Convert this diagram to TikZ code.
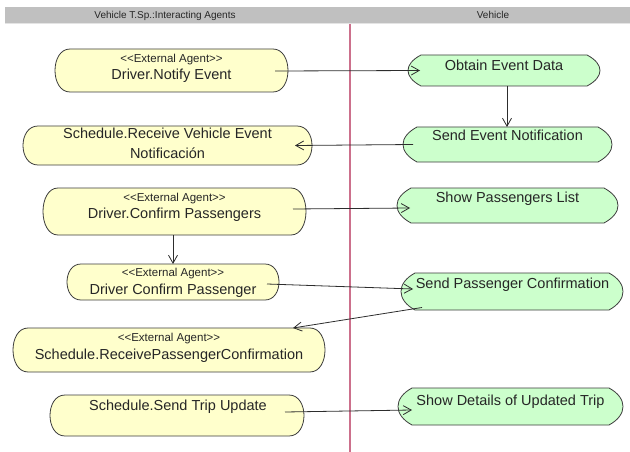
\documentclass[tikz,border=0pt]{standalone}
\usepackage{fontspec}
\setmainfont{Liberation Sans}
\usetikzlibrary{arrows.meta}

\definecolor{agentfill}{RGB}{255,255,204}
\definecolor{actfill}{RGB}{204,255,204}
\definecolor{outline}{RGB}{60,60,60}
\definecolor{headgray}{RGB}{192,192,192}
\definecolor{headedge}{RGB}{228,228,228}
\definecolor{lanepink}{RGB}{204,112,140}
\definecolor{wire}{RGB}{45,45,45}

% outline of an action state: flat top/bottom, curved ends
% #1 node, #2 bulge of the ends, #3 drop of the end tangents, #4 style
\newcommand\capoutline[4]{%
  \path[#4] ([xshift=#2]#1.north west) -- ([xshift=-#2]#1.north east)
    .. controls ([xshift=#2/3,yshift=-#3]#1.north east) and ([xshift=#2/3,yshift=#3]#1.south east)
    .. ([xshift=-#2]#1.south east) -- ([xshift=#2]#1.south west)
    .. controls ([xshift=-#2/3,yshift=#3]#1.south west) and ([xshift=-#2/3,yshift=-#3]#1.north west)
    .. cycle;}

\tikzset{
  frame/.style={rectangle, draw=none, inner sep=0pt, outer sep=0pt},
  agentshape/.style={fill=agentfill, draw=outline, line width=0.8pt},
  actshape/.style={fill=actfill, draw=outline, line width=0.8pt},
  maintext/.style={anchor=base, inner sep=0pt, text=black!85,
    font=\fontsize{14.5}{16}\selectfont},
  stereotext/.style={anchor=base, inner sep=0pt, text=black!85,
    font=\fontsize{11.5}{13}\selectfont},
  headtext/.style={anchor=base, inner sep=0pt, text=black!85,
    font=\fontsize{10}{12}\selectfont},
  flow/.style={draw=wire, line width=0.8pt,
    -{Straight Barb[length=8pt,width=9pt,line width=0.8pt]}},
}

\newcommand\stereo{<\kern0pt<External Agent>\kern0pt>}

\begin{document}
\begin{tikzpicture}[x=1pt,y=-1pt]
\useasboundingbox (0,0) rectangle (630,452);

% swimlane header and divider
\fill[headgray] (5,7) rectangle (630,23);
\draw[headedge, line width=1pt] (5,23.5) -- (630,23.5);
\node[headtext] (laneA) at (165,19) {Vehicle T.Sp.:Interacting Agents};
\node[headtext] (laneB) at (493,19) {Vehicle};
\draw[lanepink, line width=1.3pt] (350,24) -- (350,452);

% state frames
\node[frame, minimum width=233pt, minimum height=43pt] (y1) at (171.5,70.5) {};
\node[frame, minimum width=289pt, minimum height=39pt] (y2) at (167.5,145.5) {};
\node[frame, minimum width=263pt, minimum height=47pt] (y3) at (174.5,211.5) {};
\node[frame, minimum width=212pt, minimum height=36pt] (y4) at (173,282) {};
\node[frame, minimum width=312pt, minimum height=44pt] (y5) at (169,350) {};
\node[frame, minimum width=254pt, minimum height=41pt] (y6) at (177,415.5) {};

\node[frame, minimum width=192pt, minimum height=31pt] (g1) at (504,70.5) {};
\node[frame, minimum width=209pt, minimum height=35pt] (g2) at (507.5,144.5) {};
\node[frame, minimum width=221pt, minimum height=35pt] (g3) at (507.5,205.5) {};
\node[frame, minimum width=222pt, minimum height=37pt] (g4) at (512,291.5) {};
\node[frame, minimum width=225pt, minimum height=37pt] (g5) at (510.5,406.5) {};

% outlines
\capoutline{y1}{15}{0}{agentshape}
\capoutline{y2}{15}{0}{agentshape}
\capoutline{y3}{15}{0}{agentshape}
\capoutline{y4}{14}{0}{agentshape}
\capoutline{y5}{15}{0}{agentshape}
\capoutline{y6}{15}{0}{agentshape}
\capoutline{g1}{13}{9}{actshape}
\capoutline{g2}{14}{10}{actshape}
\capoutline{g3}{14}{10}{actshape}
\capoutline{g4}{14}{10}{actshape}
\capoutline{g5}{14}{10}{actshape}

% labels
\node[stereotext] (y1s) at (171.5,62.5) {\stereo};
\node[maintext]   (y1t) at (171.5,80) {Driver.Notify Event};
\node[maintext]   (y2t) at (167.5,139) {Schedule.Receive Vehicle Event};
\node[maintext]   (y2u) at (167.5,158) {Notificación};
\node[stereotext] (y3s) at (174.5,201) {\stereo};
\node[maintext]   (y3t) at (174.5,218) {Driver.Confirm Passengers};
\node[stereotext] (y4s) at (173,276.5) {\stereo};
\node[maintext]   (y4t) at (173,294) {Driver Confirm Passenger};
\node[stereotext] (y5s) at (169,341) {\stereo};
\node[maintext]   (y5t) at (169,359) {Schedule.ReceivePassengerConfirmation};
\node[maintext]   (y6t) at (178,410) {Schedule.Send Trip Update};

\node[maintext] (g1t) at (504,71) {Obtain Event Data};
\node[maintext] (g2t) at (507.5,140) {Send Event Notification};
\node[maintext] (g3t) at (507.5,202) {Show Passengers List};
\node[maintext] (g4t) at (512.5,288) {Send Passenger Confirmation};
\node[maintext] (g5t) at (510.5,405) {Show Details of Updated Trip};

% transitions
\draw[flow] ([xshift=-13,yshift=-0.5]y1.east) -- ([xshift=12]g1.west);
\draw[flow] ([xshift=3]g1.south) -- ([xshift=-0.5]g2.north);
\draw[flow] ([xshift=10]g2.west) -- ([xshift=-17]y2.east);
\draw[flow] ([xshift=-13,yshift=2.5]y3.east) -- ([xshift=13,yshift=-2.5]g3.west);
\draw[flow] ([xshift=-1.5]y3.south) -- (y4.north);
\draw[flow] ([xshift=-12,yshift=-2]y4.east) -- ([xshift=12,yshift=2.5]g4.west);
\draw[flow] ([xshift=21,yshift=2.5]g4.south west) -- ([xshift=-32]y5.north east);
\draw[flow] ([xshift=-19,yshift=3.5]y6.east) -- ([xshift=14,yshift=-3.5]g5.west);
\end{tikzpicture}
\end{document}
